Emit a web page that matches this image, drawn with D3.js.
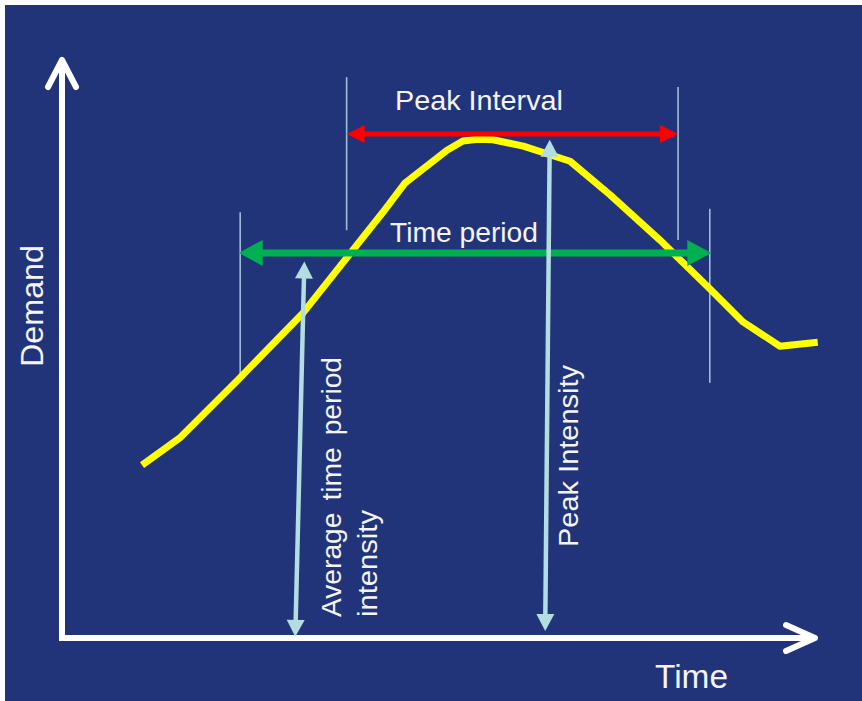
<!DOCTYPE html>
<html>
<head>
<meta charset="utf-8">
<script src="https://cdn.jsdelivr.net/npm/d3@7"></script>
<style>
  html, body { margin: 0; padding: 0; background: #ffffff; }
  svg { display: block; }
  text { font-family: "Liberation Sans", Arial, sans-serif; fill: #f4f4f4; }
</style>
</head>
<body>
<div id="chart"></div>
<script>
// ---------------- DATA ----------------
// Demand curve (time units 0-100, demand units 0-100)
const time   = [10.6, 15.6, 23.3, 31.9, 42.5, 45.4, 51.0, 53.1, 55.1, 57.1, 61.1, 67.3, 72.6, 79.2, 85.8, 90.2, 95.1, 100.1];
const demand = [29.8, 34.5, 44.5, 56.0, 73.4, 78.4, 84.1, 85.7, 86.0, 85.9, 84.8, 82.2, 76.4, 68.6, 60.2, 54.5, 50.3, 51.0];

// Thin vertical guide lines: time, from demand, to demand
const guideTime = [37.7, 81.6, 23.6, 85.8];
const guideFrom = [96.7, 95.0, 73.4, 74.0];
const guideTo   = [70.3, 68.6, 44.5, 44.0];

// Horizontal double arrows
const intervalNames = ["Peak Interval", "Time period"];
const intervalStart = [37.7, 23.4];
const intervalEnd   = [81.6, 86.0];
const intervalLevel = [86.9, 66.4];

// Vertical double arrows (intensities)
const intensityNames   = ["Average time period intensity", "Peak Intensity"];
const intensityTopT    = [32.1, 64.6];
const intensityTopD    = [64.9, 85.9];
const intensityBottomT = [30.9, 64.0];
const intensityBottomD = [0.2, 1.2];

const axisLabels = ["Time", "Demand"];

// ---------------- LAYOUT ----------------
const W = 862, H = 701;
const svg = d3.select("#chart").append("svg").attr("width", W).attr("height", H);

svg.append("rect").attr("x", 0).attr("y", 0).attr("width", W).attr("height", H).attr("fill", "#ffffff");
svg.append("rect").attr("x", 5).attr("y", 5).attr("width", W - 5).attr("height", H - 5).attr("fill", "#21347A");

const x = d3.scaleLinear().domain([0, 100]).range([62, 817]);
const y = d3.scaleLinear().domain([0, 100]).range([638, 58]);

// ---------------- AXES ----------------
const axisColor = "#ffffff";
const ax = svg.append("g");
ax.append("path")
  .attr("d", d3.line()([[x(0), y(100) + 2], [x(0), y(0)], [x(100) - 2, y(0)]]))
  .attr("fill", "none").attr("stroke", axisColor).attr("stroke-width", 6)
  .attr("stroke-linejoin", "miter").attr("stroke-linecap", "butt");
// chevrons
ax.append("path")
  .attr("d", d3.line()([[x(0) - 14, y(100) + 29], [x(0), y(100) + 2], [x(0) + 14, y(100) + 29]]))
  .attr("fill", "none").attr("stroke", axisColor).attr("stroke-width", 6)
  .attr("stroke-linejoin", "round").attr("stroke-linecap", "round");
ax.append("path")
  .attr("d", d3.line()([[x(100) - 31, y(0) - 13], [x(100) - 2, y(0)], [x(100) - 31, y(0) + 13]]))
  .attr("fill", "none").attr("stroke", axisColor).attr("stroke-width", 6)
  .attr("stroke-linejoin", "round").attr("stroke-linecap", "round");

// axis labels
svg.append("text").text(axisLabels[0])
  .attr("x", 655).attr("y", 688)
  .attr("font-size", 34).attr("textLength", 73).attr("lengthAdjust", "spacingAndGlyphs");
svg.append("text").text(axisLabels[1])
  .attr("transform", "translate(43,367) rotate(-90)")
  .attr("font-size", 31).attr("textLength", 122).attr("lengthAdjust", "spacingAndGlyphs");

// ---------------- GUIDE LINES ----------------
svg.append("g").selectAll("line").data(guideTime).join("line")
  .attr("x1", d => x(d)).attr("x2", d => x(d))
  .attr("y1", (d, i) => y(guideFrom[i])).attr("y2", (d, i) => y(guideTo[i]))
  .attr("stroke", "#9fbdd3").attr("stroke-width", 1.6);

// ---------------- CURVE ----------------
const pts = time.map((t, i) => [t, demand[i]]);
svg.append("path")
  .attr("d", d3.line().x(d => x(d[0])).y(d => y(d[1])).curve(d3.curveLinear)(pts))
  .attr("fill", "none").attr("stroke", "#ffff00").attr("stroke-width", 7)
  .attr("stroke-linejoin", "round").attr("stroke-linecap", "butt");

// ---------------- ARROW HELPER ----------------
function doubleArrow(g, x1, y1, x2, y2, color, width, headLen, headHalf) {
  const dx = x2 - x1, dy = y2 - y1, L = Math.hypot(dx, dy);
  const ux = dx / L, uy = dy / L, px = -uy, py = ux;
  g.append("line")
    .attr("x1", x1 + ux * headLen * 0.8).attr("y1", y1 + uy * headLen * 0.8)
    .attr("x2", x2 - ux * headLen * 0.8).attr("y2", y2 - uy * headLen * 0.8)
    .attr("stroke", color).attr("stroke-width", width);
  const head = (tx, ty, sx, sy) => {
    const bx = tx + sx * headLen, by = ty + sy * headLen;
    g.append("path")
      .attr("d", d3.line()([[tx, ty], [bx + px * headHalf, by + py * headHalf], [bx - px * headHalf, by - py * headHalf]]) + "Z")
      .attr("fill", color);
  };
  head(x1, y1, ux, uy);
  head(x2, y2, -ux, -uy);
}

// horizontal interval arrows
const hColors = ["#ff0000", "#00b050"];
const hWidths = [5, 7];
const hHeadLen = [18, 24];
const hHeadHalf = [9, 13];
const hg = svg.append("g");
intervalNames.forEach((n, i) => {
  doubleArrow(hg, x(intervalStart[i]), y(intervalLevel[i]), x(intervalEnd[i]), y(intervalLevel[i]),
    hColors[i], hWidths[i], hHeadLen[i], hHeadHalf[i]);
});

// vertical intensity arrows
const vg = svg.append("g");
intensityNames.forEach((n, i) => {
  doubleArrow(vg, x(intensityTopT[i]), y(intensityTopD[i]), x(intensityBottomT[i]), y(intensityBottomD[i]),
    "#b3dde1", 4.5, 17, 9);
});

// ---------------- LABELS ----------------
svg.append("text").text(intervalNames[0])
  .attr("x", 395).attr("y", 110)
  .attr("font-size", 28).attr("textLength", 168).attr("lengthAdjust", "spacingAndGlyphs");
svg.append("text").text(intervalNames[1])
  .attr("x", 390).attr("y", 242)
  .attr("font-size", 28).attr("textLength", 148).attr("lengthAdjust", "spacingAndGlyphs");

const avgWords = intensityNames[0].split(" ");
svg.append("text").text(avgWords.slice(0, 3).join(" "))
  .attr("transform", "translate(341,617) rotate(-90)")
  .attr("font-size", 27).attr("textLength", 260).attr("lengthAdjust", "spacingAndGlyphs")
  .attr("word-spacing", 4);
svg.append("text").text(avgWords.slice(3).join(" "))
  .attr("transform", "translate(377,617) rotate(-90)")
  .attr("font-size", 27).attr("textLength", 107).attr("lengthAdjust", "spacingAndGlyphs");
svg.append("text").text(intensityNames[1])
  .attr("transform", "translate(578,547) rotate(-90)")
  .attr("font-size", 27).attr("textLength", 182).attr("lengthAdjust", "spacingAndGlyphs");
</script>
</body>
</html>
